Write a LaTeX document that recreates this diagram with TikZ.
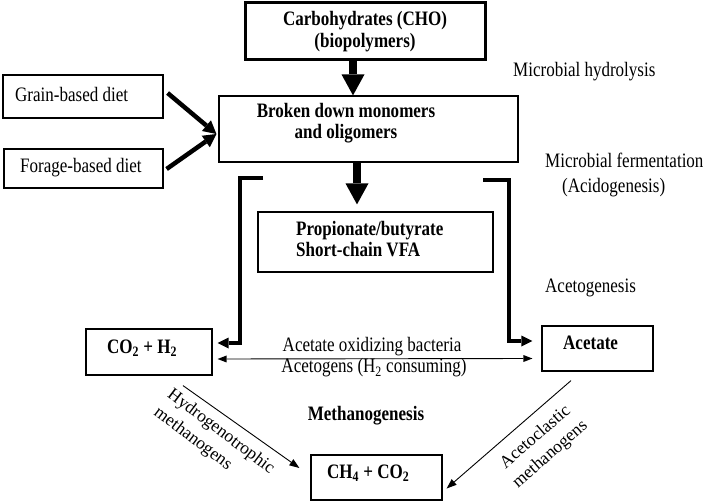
\documentclass[tikz,border=0pt]{standalone}
\usepackage{fontspec}
\setmainfont{Liberation Serif}[FakeStretch=0.83]
\newfontfamily\rotfont{Liberation Serif}
\usetikzlibrary{arrows.meta}
\begin{document}
\begin{tikzpicture}[x=1pt,y=-1pt,
  font=\fontsize{20.5}{21.5}\selectfont,
  box/.style={draw, line width=1.2pt, inner sep=0pt, rectangle},
  txt/.style={inner sep=0pt, anchor=west, align=left},
  bf/.style={font=\fontsize{20.5}{21.5}\selectfont\bfseries},
  rot/.style={inner sep=0pt, font=\rotfont\fontsize{17.6}{22.5}\selectfont},
  bigarr/.style={line width=8pt, -{Triangle[length=21pt,width=23pt,line width=0pt]}},
  midarr/.style={line width=4.5pt, -{Triangle[length=13pt,width=14pt,line width=0pt]}},
  brk/.style={line width=4pt, -{Triangle[length=11pt,width=11pt,line width=0pt]}},
  thinarr/.style={line width=0.9pt, -{Triangle[length=10pt,width=7.5pt,line width=0pt]}},
  dblarr/.style={line width=0.9pt, {Triangle[length=9pt,width=7pt,line width=0pt]}-{Triangle[length=9pt,width=7pt,line width=0pt]}}
]
\useasboundingbox (0,0) rectangle (707,503);

% boxes
\node[box, line width=3pt, minimum width=240pt, minimum height=57pt, bf, align=center] (cho) at (365,31.5) {Carbohydrates (CHO)\\(biopolymers)};
\node[box, minimum width=299pt, minimum height=66pt] (broken) at (368.5,129) {};
\node[inner sep=0pt, bf, align=center] (brokentxt) at (346,123) {Broken down monomers\\and oligomers};
\node[box, minimum width=235pt, minimum height=60pt] (prop) at (375.5,242) {};
\node[txt, bf] (proptxt) at (296,239) {Propionate/butyrate\\Short-chain VFA};
\node[box, minimum width=160pt, minimum height=43pt] (grain) at (83,96.5) {};
\node[txt] (graintxt) at (15,94) {Grain-based diet};
\node[box, minimum width=159pt, minimum height=39pt] (forage) at (83.5,168.5) {};
\node[txt] (foragetxt) at (20,168) {Forage-based diet};
\node[box, minimum width=126pt, minimum height=46pt] (co2) at (149,352) {};
\node[txt, bf] (co2txt) at (107,348) {CO\textsubscript{2} + H\textsubscript{2}};
\node[box, minimum width=111pt, minimum height=45pt] (acetate) at (597.5,348.5) {};
\node[txt, bf] (acetatetxt) at (563,343) {Acetate};
\node[box, minimum width=131pt, minimum height=45pt] (ch4) at (376.5,477.5) {};
\node[txt, bf] (ch4txt) at (327,473) {CH\textsubscript{4} + CO\textsubscript{2}};

% labels
\node[txt] (hydl) at (513,72) {Microbial hydrolysis};
\node[txt] (ferm) at (545,160) {Microbial fermentation};
\node[txt] (acid) at (562,188) {(Acidogenesis)};
\node[txt] (acg) at (545,288) {Acetogenesis};
\node[inner sep=0pt] (aob) at (372,347) {Acetate oxidizing bacteria};
\node[inner sep=0pt] (acgn) at (374,368) {Acetogens (H\textsubscript{2} consuming)};
\node[inner sep=0pt, bf] (meth) at (366,416) {Methanogenesis};
\node[rot, align=left, rotate=-37] (hydro) at (214,441) {Hydrogenotrophic\\methanogens};
\node[rot, align=center, rotate=41] (aceto) at (543,446) {Acetoclastic\\methanogens};

% connectors
\draw[bigarr] ([xshift=-12pt]cho.south) -- ([xshift=-15.5pt]broken.north);
\draw[bigarr] ([xshift=-11.5pt]broken.south) -- ([xshift=-18.5pt,yshift=7pt]prop.north);
\draw[midarr] ([xshift=4pt,yshift=3.5pt]grain.east) -- ([xshift=-2pt,yshift=-5pt]broken.west);
\draw[midarr] ([xshift=3pt,yshift=-0.5pt]forage.east) -- ([xshift=-2pt,yshift=-5pt]broken.west);
\coordinate (lb) at (263,178);
\coordinate (rb) at (483,180);
\draw[brk] (lb) -- ++(-23,0) |- ([xshift=5pt,yshift=9pt]co2.east);
\draw[brk] (rb) -- ++(26,0) |- ([xshift=-9pt,yshift=7.5pt]acetate.west);
\draw[dblarr] ([xshift=5pt,yshift=-7pt]co2.east) -- ([xshift=-9pt,yshift=-10pt]acetate.west);
\draw[thinarr] ([xshift=34pt,yshift=-10pt]co2.south) -- ([xshift=-11pt,yshift=9.5pt]ch4.west);
\draw[thinarr] ([xshift=-26.5pt,yshift=-9pt]acetate.south) -- ([xshift=4pt,yshift=-11pt]ch4.east);
\end{tikzpicture}
\end{document}
